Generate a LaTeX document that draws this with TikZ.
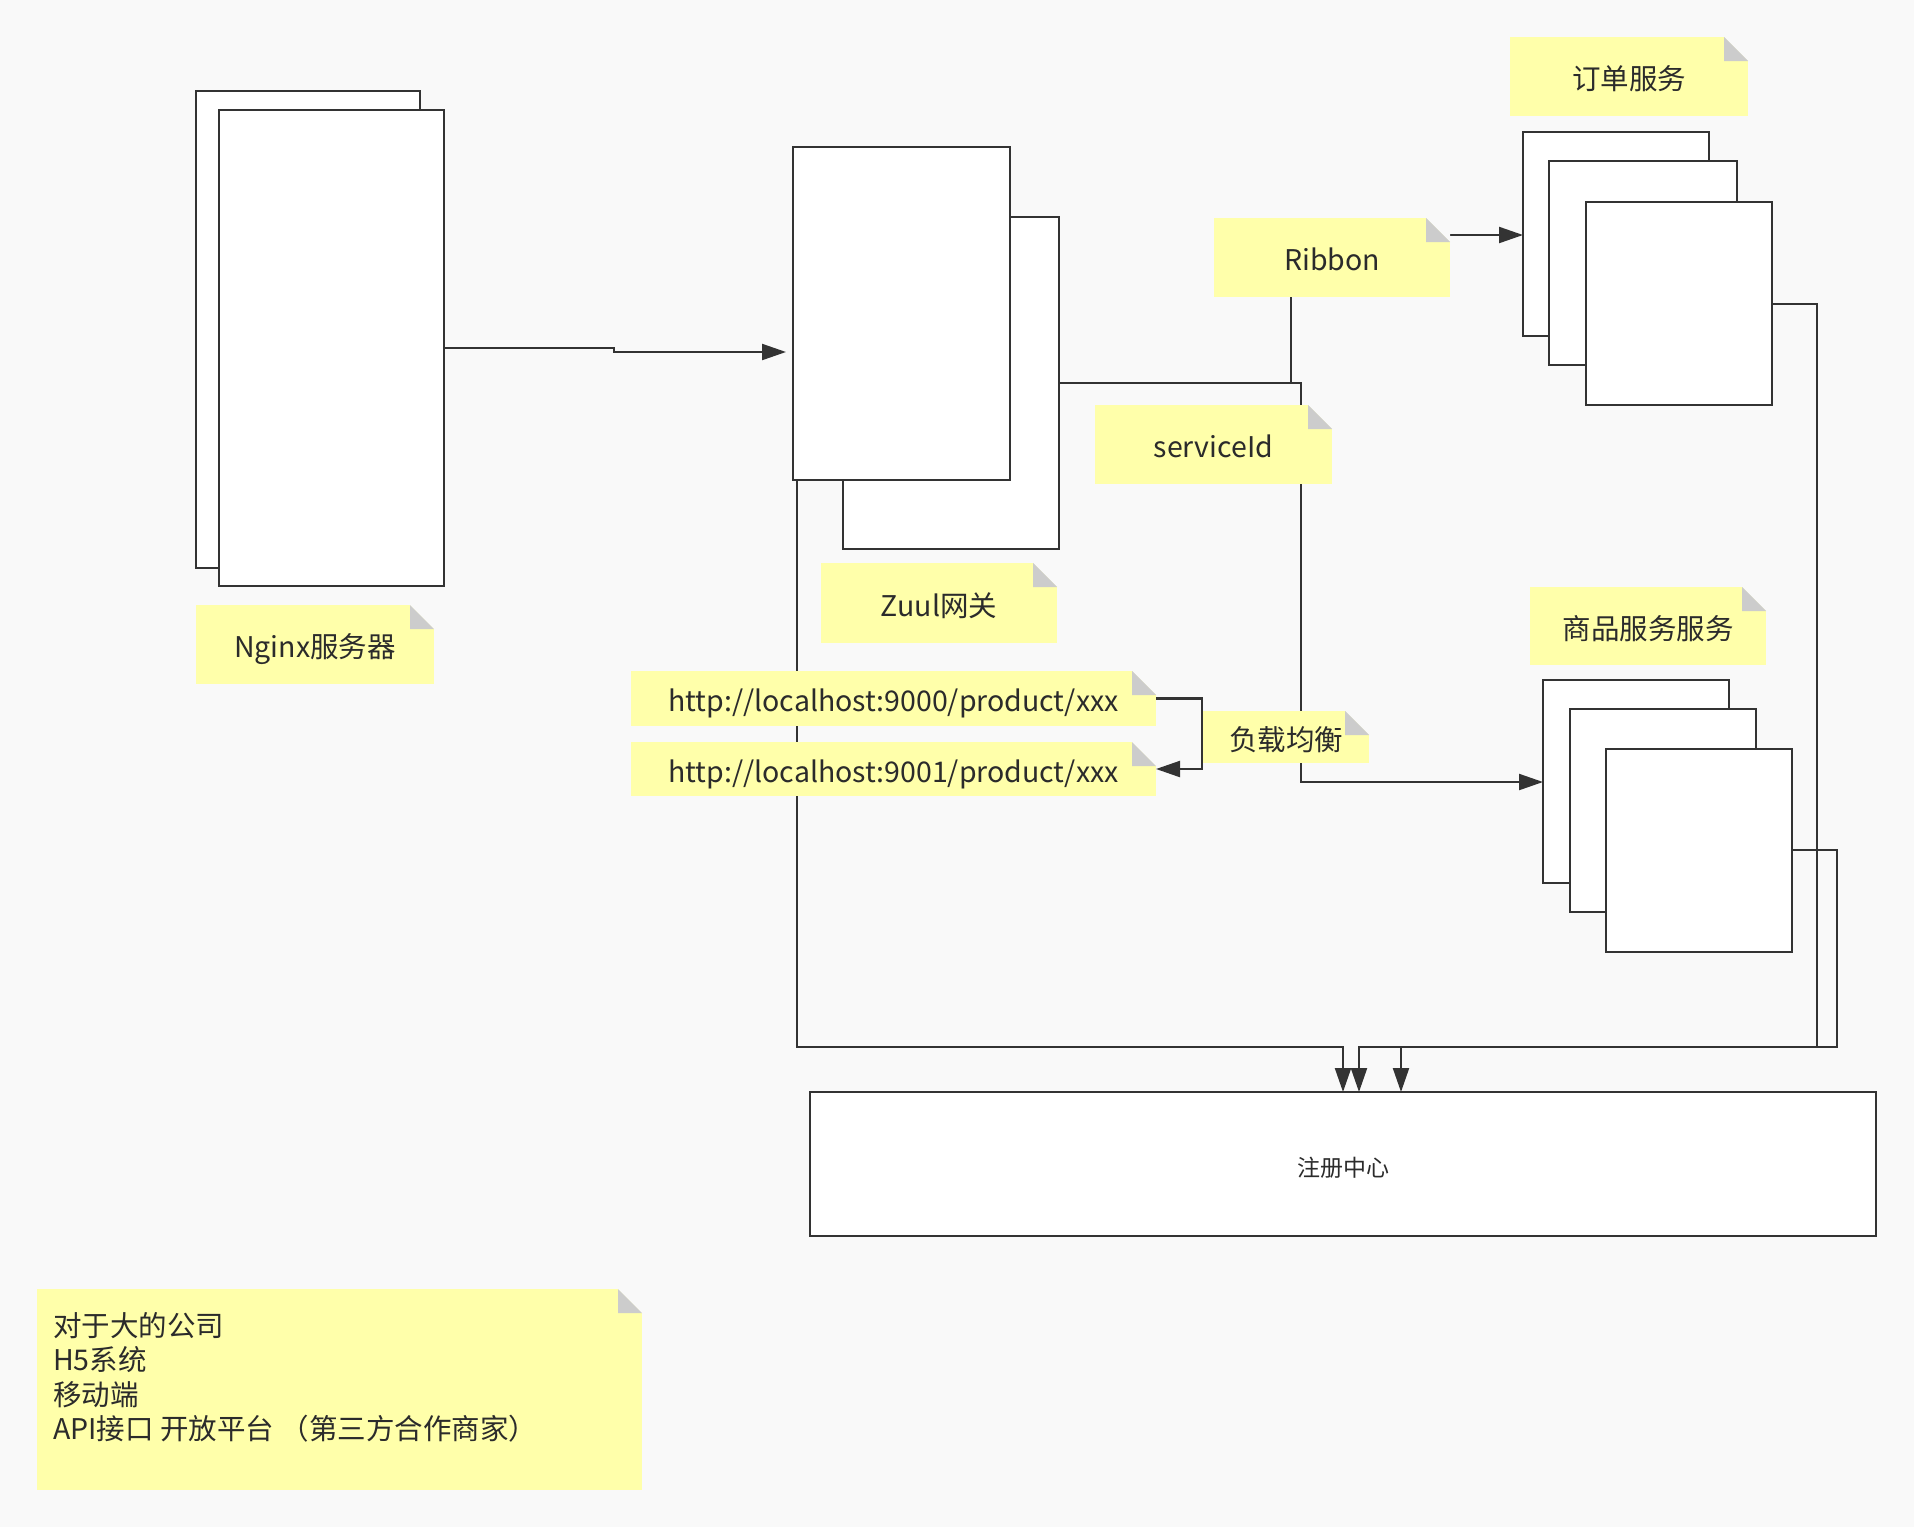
\documentclass[tikz,border=0pt]{standalone}
\usepackage{fontspec}
\setmainfont{Noto Sans CJK SC}
\usetikzlibrary{arrows.meta,calc}
\definecolor{bgc}{HTML}{F9F9F9}
\definecolor{noteY}{HTML}{FFFFAA}
\definecolor{foldc}{HTML}{CCCCCC}
\definecolor{lc}{HTML}{333333}
\definecolor{tc}{HTML}{2B2B2B}
\newcommand{\notefont}{\fontsize{28.5}{34.5}\selectfont}
\newcommand{\regfont}{\fontsize{23}{28}\selectfont}
\tikzset{
  box/.style={draw=lc, fill=white, line width=2.6pt, inner sep=0pt, outer sep=0pt, anchor=north west},
  note/.style={fill=noteY, inner sep=0pt, outer sep=0pt, anchor=north west, text=tc, font=\notefont,
    text height=30pt, text depth=4pt,
    path picture={
      \fill[bgc] (path picture bounding box.north east) -- ++(-24pt,0pt) -- ++(24pt,-24pt) -- cycle;
      \fill[foldc] (path picture bounding box.north east) ++(-24pt,0pt) -- ++(0pt,-24pt) -- ++(24pt,0pt) -- cycle;
    }},
  conn/.style={draw=lc, line width=2.2pt},
  arr/.style={conn, -{Triangle[length=24pt,width=16pt]}},
}
\begin{document}
\begin{tikzpicture}[x=1pt,y=-1pt]
\useasboundingbox (0,0) rectangle (1914,1527);
\fill[bgc] (0,0) rectangle (1914,1527);

% ---- boxes
\node[box, minimum width=224pt, minimum height=477pt] (nginxB) at (196,91) {};
\node[box, minimum width=225pt, minimum height=476pt] (nginxF) at (219,110) {};

\node[box, minimum width=216pt, minimum height=332pt] (gwB) at (843,217) {};
\node[box, minimum width=217pt, minimum height=333pt] (gwF) at (793,147) {};

\node[box, minimum width=186pt, minimum height=204pt] (o1) at (1523,132) {};
\node[box, minimum width=188pt, minimum height=204pt] (o2) at (1549,161) {};
\node[box, minimum width=186pt, minimum height=203pt] (o3) at (1586,202) {};

\node[box, minimum width=186pt, minimum height=203pt] (p1) at (1543,680) {};
\node[box, minimum width=186pt, minimum height=203pt] (p2) at (1570,709) {};
\node[box, minimum width=186pt, minimum height=203pt] (p3) at (1606,749) {};

\node[box, minimum width=1066pt, minimum height=144pt, text=tc, font=\regfont,
      text height=28pt, text depth=3pt] (reg) at (810,1092) {注册中心};

% ---- connectors
\draw[arr, shorten >=7pt] (nginxF.east) -- (614,348) -- (614,352) -- (gwF.west |- 0,352);
\draw[conn] (gwB.east |- 0,383) -- (1291,383) -- (1291,297);
\draw[arr] (gwB.east |- 0,383) -- (1301,383) -- (1301,782) -- (p1.west |- 0,782);
\draw[arr] (1446,235) -- (o1.west |- 0,235);
\draw[arr] ([xshift=4pt]gwF.south west) -- (797,1047) -- (1343,1047) -- (reg.north -| 1343,0);
\draw[arr] (o3.east |- 0,304) -- (1817,304) -- (1817,1047) -- (1401,1047) -- (reg.north -| 1401,0);
\draw[arr] (p3.east |- 0,850) -- (1837,850) -- (1837,1047) -- (1359,1047) -- (reg.north -| 1359,0);

% ---- notes
\node[note, minimum width=238pt, minimum height=79pt] (nginxN) at (196,605) {Nginx服务器};
\node[note, minimum width=236pt, minimum height=80pt] (zuulN) at (821,563) {Zuul网关};
\node[note, minimum width=525pt, minimum height=55pt] (http1) at (631,671) {http://localhost:9000/product/xxx};
\node[note, minimum width=525pt, minimum height=54pt] (http2) at (631,742) {http://localhost:9001/product/xxx};
\node[note, minimum width=166pt, minimum height=52pt] (lbN) at (1203,711) {负载均衡};
\node[note, minimum width=238pt, minimum height=79pt] (orderN) at (1510,37) {订单服务};
\node[note, minimum width=236pt, minimum height=79pt] (ribbonN) at (1214,218) {Ribbon};
\node[note, minimum width=237pt, minimum height=79pt] (sidN) at (1095,405) {serviceId};
\node[note, minimum width=236pt, minimum height=78pt] (prodN) at (1530,587) {商品服务服务};
\node[note, minimum width=605pt, minimum height=201pt] (bigN) at (37,1289) {};
\node[anchor=north west, inner sep=0pt, align=left, text=tc, font=\notefont] (bigT) at (53,1312)
  {对于大的公司\\H5系统\\移动端\\API接口 开放平台 （第三方合作商家）};

\draw[arr] (http1.east) -- ++(46,0) |- (http2.east);
\end{tikzpicture}
\end{document}
